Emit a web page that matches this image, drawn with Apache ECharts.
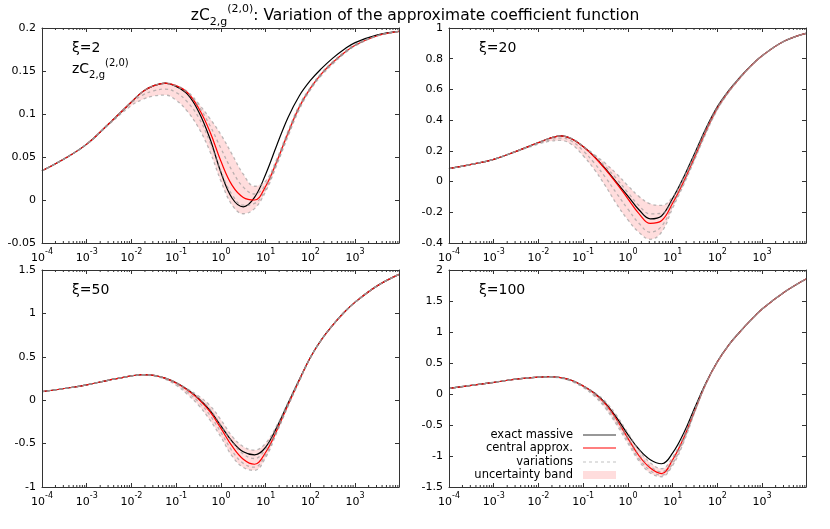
<!DOCTYPE html>
<html>
<head>
<meta charset="utf-8">
<script src="https://cdn.jsdelivr.net/npm/echarts@6/dist/echarts.min.js"></script>
</head>
<body style="margin:0;background:#fff">
<div id="main" style="width:830px;height:529px;"></div>
<script>
// x grid (log axis), same for all panels
var xs = [1e-4, 3.16e-4, 1e-3, 3.16e-3, 0.01, 0.0178, 0.0316, 0.0562, 0.1, 0.178, 0.316, 0.562, 1,
          1.78, 3.16, 5.62, 10, 17.8, 31.6, 56.2, 100, 178, 316, 562, 1000, 3162, 9550];

// xi = 2
var p1Exact   = [0.034, 0.048, 0.065, 0.089, 0.114, 0.126, 0.133, 0.136, 0.132, 0.123, 0.103, 0.072, 0.032, 0.002, -0.008, 0.003, 0.030, 0.064, 0.096, 0.121, 0.139, 0.153, 0.165, 0.175, 0.183, 0.192, 0.196];
var p1Central = [0.034, 0.048, 0.065, 0.089, 0.114, 0.126, 0.133, 0.136, 0.133, 0.125, 0.107, 0.080, 0.045, 0.017, 0.003, 0.000, 0.016, 0.045, 0.078, 0.108, 0.130, 0.147, 0.160, 0.171, 0.180, 0.191, 0.196];
var p1VarA    = [0.034, 0.048, 0.065, 0.089, 0.114, 0.126, 0.133, 0.136, 0.133, 0.126, 0.112, 0.095, 0.076, 0.053, 0.030, 0.016, 0.022, 0.048, 0.080, 0.110, 0.131, 0.148, 0.161, 0.172, 0.181, 0.191, 0.196];
var p1VarB    = [0.034, 0.048, 0.065, 0.089, 0.114, 0.126, 0.133, 0.135, 0.132, 0.124, 0.109, 0.087, 0.060, 0.034, 0.015, 0.007, 0.018, 0.046, 0.079, 0.109, 0.130, 0.147, 0.160, 0.171, 0.180, 0.191, 0.196];
var p1VarC    = [0.034, 0.048, 0.065, 0.089, 0.113, 0.122, 0.127, 0.129, 0.125, 0.114, 0.096, 0.068, 0.033, 0.006, -0.006, -0.004, 0.013, 0.043, 0.076, 0.107, 0.129, 0.146, 0.159, 0.170, 0.180, 0.191, 0.196];
var p1VarD    = [0.034, 0.048, 0.065, 0.088, 0.110, 0.117, 0.121, 0.122, 0.116, 0.103, 0.084, 0.057, 0.022, -0.006, -0.016, -0.010, 0.010, 0.041, 0.074, 0.105, 0.128, 0.145, 0.158, 0.170, 0.179, 0.191, 0.196];

// xi = 20
var p2Exact   = [0.084, 0.112, 0.145, 0.197, 0.254, 0.282, 0.297, 0.277, 0.228, 0.162, 0.082, -0.007, -0.094, -0.185, -0.243, -0.224, -0.109, 0.032, 0.190, 0.350, 0.488, 0.592, 0.678, 0.755, 0.820, 0.915, 0.965];
var p2Central = [0.084, 0.112, 0.145, 0.197, 0.254, 0.282, 0.297, 0.277, 0.228, 0.160, 0.078, -0.013, -0.112, -0.210, -0.272, -0.255, -0.140, 0.003, 0.165, 0.333, 0.478, 0.586, 0.674, 0.753, 0.819, 0.915, 0.965];
var p2VarA    = [0.084, 0.112, 0.145, 0.197, 0.254, 0.282, 0.297, 0.280, 0.231, 0.175, 0.117, 0.050, -0.027, -0.098, -0.145, -0.155, -0.100, 0.030, 0.188, 0.350, 0.488, 0.592, 0.678, 0.755, 0.820, 0.915, 0.965];
var p2VarB    = [0.084, 0.112, 0.145, 0.197, 0.254, 0.282, 0.297, 0.279, 0.229, 0.168, 0.097, 0.017, -0.072, -0.158, -0.210, -0.207, -0.122, 0.016, 0.176, 0.341, 0.482, 0.589, 0.676, 0.754, 0.820, 0.915, 0.965];
var p2VarC    = [0.084, 0.112, 0.145, 0.197, 0.250, 0.272, 0.283, 0.262, 0.200, 0.120, 0.026, -0.078, -0.180, -0.273, -0.330, -0.292, -0.155, -0.008, 0.155, 0.325, 0.472, 0.583, 0.672, 0.752, 0.818, 0.915, 0.965];
var p2VarD    = [0.084, 0.112, 0.145, 0.194, 0.244, 0.262, 0.268, 0.240, 0.168, 0.078, -0.030, -0.148, -0.250, -0.332, -0.376, -0.330, -0.172, -0.018, 0.148, 0.318, 0.468, 0.580, 0.670, 0.751, 0.818, 0.915, 0.965];

// xi = 50
var p3Exact   = [0.098, 0.135, 0.177, 0.232, 0.280, 0.295, 0.287, 0.255, 0.200, 0.122, 0.020, -0.115, -0.295, -0.475, -0.595, -0.630, -0.540, -0.310, -0.036, 0.235, 0.495, 0.700, 0.865, 1.010, 1.130, 1.320, 1.450];
var p3Central = [0.098, 0.135, 0.177, 0.232, 0.280, 0.295, 0.287, 0.255, 0.198, 0.118, 0.012, -0.130, -0.325, -0.530, -0.680, -0.738, -0.600, -0.345, -0.055, 0.228, 0.492, 0.699, 0.865, 1.010, 1.130, 1.320, 1.450];
var p3VarA    = [0.098, 0.135, 0.177, 0.232, 0.280, 0.295, 0.287, 0.256, 0.203, 0.130, 0.048, -0.060, -0.225, -0.415, -0.535, -0.575, -0.495, -0.290, -0.025, 0.240, 0.497, 0.700, 0.865, 1.010, 1.130, 1.320, 1.450];
var p3VarB    = [0.098, 0.135, 0.177, 0.232, 0.280, 0.295, 0.287, 0.255, 0.200, 0.120, 0.022, -0.100, -0.290, -0.480, -0.620, -0.672, -0.560, -0.322, -0.045, 0.231, 0.494, 0.700, 0.865, 1.010, 1.130, 1.320, 1.450];
var p3VarC    = [0.098, 0.135, 0.177, 0.232, 0.280, 0.295, 0.282, 0.250, 0.188, 0.095, -0.020, -0.170, -0.370, -0.585, -0.728, -0.772, -0.625, -0.355, -0.062, 0.222, 0.490, 0.698, 0.864, 1.009, 1.130, 1.320, 1.450];
var p3VarD    = [0.098, 0.135, 0.177, 0.232, 0.277, 0.290, 0.278, 0.242, 0.172, 0.068, -0.058, -0.225, -0.425, -0.645, -0.775, -0.808, -0.660, -0.372, -0.070, 0.215, 0.487, 0.697, 0.864, 1.009, 1.130, 1.320, 1.450];

// xi = 100
var p4Exact   = [0.092, 0.140, 0.188, 0.240, 0.272, 0.278, 0.264, 0.218, 0.130, 0.015, -0.150, -0.385, -0.655, -0.895, -1.060, -1.125, -0.950, -0.625, -0.210, 0.190, 0.525, 0.790, 1.000, 1.195, 1.370, 1.645, 1.855];
var p4Central = [0.092, 0.140, 0.188, 0.240, 0.272, 0.278, 0.264, 0.218, 0.128, 0.010, -0.165, -0.415, -0.715, -1.000, -1.195, -1.285, -1.060, -0.700, -0.262, 0.178, 0.518, 0.786, 0.998, 1.195, 1.370, 1.645, 1.855];
var p4VarA    = [0.092, 0.140, 0.188, 0.240, 0.272, 0.278, 0.264, 0.218, 0.132, 0.022, -0.125, -0.350, -0.630, -0.905, -1.110, -1.205, -1.020, -0.665, -0.235, 0.184, 0.522, 0.788, 1.000, 1.195, 1.370, 1.645, 1.855];
var p4VarB    = [0.092, 0.140, 0.188, 0.240, 0.272, 0.278, 0.264, 0.217, 0.127, 0.005, -0.172, -0.425, -0.705, -0.980, -1.170, -1.255, -1.075, -0.712, -0.250, 0.180, 0.519, 0.787, 0.999, 1.195, 1.370, 1.645, 1.855];
var p4VarC    = [0.092, 0.140, 0.188, 0.240, 0.272, 0.277, 0.261, 0.208, 0.118, -0.012, -0.200, -0.460, -0.750, -1.045, -1.235, -1.310, -1.120, -0.745, -0.270, 0.174, 0.516, 0.784, 0.998, 1.194, 1.370, 1.645, 1.855];
var p4VarD    = [0.092, 0.140, 0.188, 0.240, 0.271, 0.274, 0.254, 0.202, 0.104, -0.035, -0.232, -0.500, -0.795, -1.085, -1.275, -1.335, -1.150, -0.770, -0.282, 0.168, 0.513, 0.782, 0.997, 1.194, 1.370, 1.645, 1.855];

var xiLabels = ['ξ=2', 'ξ=20', 'ξ=50', 'ξ=100'];
var yMins = [-0.05, -0.4, -1, -1.5];
var yMaxs = [0.2, 1, 1.5, 2];
var ySteps = [0.05, 0.2, 0.5, 0.5];
var legendNames = ['exact massive', 'central approx.', 'variations', 'uncertainty band'];
var xMin = 1e-4, xMax = 9550;

var panels = [
    {exact: p1Exact, central: p1Central, vars: [p1VarA, p1VarB, p1VarC, p1VarD]},
    {exact: p2Exact, central: p2Central, vars: [p2VarA, p2VarB, p2VarC, p2VarD]},
    {exact: p3Exact, central: p3Central, vars: [p3VarA, p3VarB, p3VarC, p3VarD]},
    {exact: p4Exact, central: p4Central, vars: [p4VarA, p4VarB, p4VarC, p4VarD]}
];

// minor ticks 2..9 x 10^n
var minorTicks = [];
for (var n = -4; n <= 3; n++) {
    for (var k = 2; k <= 9; k++) {
        var v = k * Math.pow(10, n);
        if (v < xMax) minorTicks.push(v);
    }
}

var FONT = 'DejaVu Sans';
var FRAME = '#333';
var VARCOL = 'rgba(150,150,150,0.65)';
var grids = [
    {left: 42, top: 28, width: 357, height: 215},
    {left: 449, top: 28, width: 357, height: 215},
    {left: 42, top: 270, width: 357, height: 217},
    {left: 449, top: 270, width: 357, height: 217}
];

function pairs(arr) {
    return xs.map(function (x, k) { return [x, arr[k]]; });
}

var xAxes = [], yAxes = [], series = [];
panels.forEach(function (p, i) {
    var line = {show: true, onZero: false, lineStyle: {color: FRAME, width: 1}};
    var tick = {show: true, inside: true, length: 4, lineStyle: {color: FRAME, width: 1}};
    xAxes.push({
        type: 'log', logBase: 10, gridIndex: i, min: xMin, max: xMax, position: 'bottom', z: 10,
        axisLine: line, axisTick: tick, splitLine: {show: false},
        axisLabel: {
            margin: 5, showMaxLabel: false, color: '#000',
            formatter: function (val) {
                var e = Math.round(Math.log(val) / Math.LN10);
                return '{b|10}{s|' + e + '}';
            },
            rich: {
                b: {fontSize: 11, fontFamily: FONT, color: '#000', lineHeight: 16, verticalAlign: 'bottom'},
                s: {fontSize: 8, fontFamily: FONT, color: '#000', lineHeight: 9, verticalAlign: 'top'}
            }
        }
    });
    xAxes.push({
        type: 'log', logBase: 10, gridIndex: i, min: xMin, max: xMax, position: 'top', z: 10,
        axisLine: line, axisTick: tick, splitLine: {show: false}, axisLabel: {show: false}
    });
    yAxes.push({
        type: 'value', gridIndex: i, min: yMins[i], max: yMaxs[i], interval: ySteps[i], position: 'left', z: 10,
        axisLine: line, axisTick: tick, splitLine: {show: false},
        axisLabel: {margin: 6, color: '#000', fontSize: 11, fontFamily: FONT}
    });
    yAxes.push({
        type: 'value', gridIndex: i, min: yMins[i], max: yMaxs[i], interval: ySteps[i], position: 'right', z: 10,
        axisLine: line, axisTick: tick, splitLine: {show: false}, axisLabel: {show: false}
    });

    var xi = 2 * i, yi = 2 * i;
    // uncertainty band = envelope of the variations
    var hi = xs.map(function (x, k) { return Math.max.apply(null, p.vars.map(function (a) { return a[k]; })); });
    var lo = xs.map(function (x, k) { return Math.min.apply(null, p.vars.map(function (a) { return a[k]; })); });
    series.push({
        type: 'line', xAxisIndex: xi, yAxisIndex: yi, data: pairs(hi), smooth: 0.4, symbol: 'none', silent: true, z: 1,
        lineStyle: {width: 0, opacity: 0}, areaStyle: {color: '#ffdddd', opacity: 1, origin: 'start'}
    });
    series.push({
        type: 'line', xAxisIndex: xi, yAxisIndex: yi, data: pairs(lo), smooth: 0.4, symbol: 'none', silent: true, z: 2,
        lineStyle: {width: 0, opacity: 0}, areaStyle: {color: '#ffffff', opacity: 1, origin: 'start'}
    });
    series.push({
        type: 'line', xAxisIndex: xi, yAxisIndex: yi, data: pairs(p.exact), smooth: 0.4, symbol: 'none', z: 3,
        lineStyle: {color: '#000', width: 1.2}
    });
    series.push({
        type: 'line', xAxisIndex: xi, yAxisIndex: yi, data: pairs(p.central), smooth: 0.4, symbol: 'none', z: 4,
        lineStyle: {color: '#ff0000', width: 1.2}
    });
    p.vars.forEach(function (arr, j) {
        series.push({
            type: 'line', xAxisIndex: xi, yAxisIndex: yi, data: pairs(arr), smooth: 0.4, symbol: 'none', z: 5,
            lineStyle: {color: VARCOL, width: 1.3, type: [3, 3], dashOffset: j % 2}
        });
    });
    series.push({
        type: 'custom', xAxisIndex: xi, yAxisIndex: yi, silent: true, z: 10, clip: false,
        data: minorTicks.map(function (v) { return [v, yMins[i]]; }),
        encode: {x: 0, y: 1},
        renderItem: function (params, api) {
            var b = api.coord([api.value(0), yMins[i]]);
            var t = api.coord([api.value(0), yMaxs[i]]);
            var st = {stroke: FRAME, lineWidth: 1};
            return {type: 'group', children: [
                {type: 'line', shape: {x1: b[0], y1: b[1], x2: b[0], y2: b[1] - 2}, style: st},
                {type: 'line', shape: {x1: t[0], y1: t[1], x2: t[0], y2: t[1] + 2}, style: st}
            ]};
        }
    });
});

function richTitle(size, sub) {
    return {
        n: {fontSize: size, fontFamily: FONT, color: '#000', lineHeight: size + 8, verticalAlign: 'middle'},
        sb: {fontSize: sub, fontFamily: FONT, color: '#000', lineHeight: sub, verticalAlign: 'bottom'},
        sp: {fontSize: sub, fontFamily: FONT, color: '#000', lineHeight: sub, verticalAlign: 'top'}
    };
}

var labelStyle = {fontSize: 14, fontWeight: 'normal', fontFamily: FONT, color: '#000'};
var titles = [{
    text: '{n|zC}{sb|2,g}{sp|(2,0)}{n|: Variation of the approximate coefficient function}',
    left: 'center', top: -1,
    textStyle: {fontSize: 15.5, fontWeight: 'normal', fontFamily: FONT, color: '#000', rich: richTitle(15.5, 11)}
}];
xiLabels.forEach(function (t, i) {
    titles.push({text: t, left: grids[i].left + 30, top: grids[i].top + 13, padding: 0, textStyle: labelStyle});
});
titles.push({
    text: '{n|zC}{sb|2,g}{sp|(2,0)}', left: 72, top: 58, padding: 0,
    textStyle: {fontSize: 14, fontWeight: 'normal', fontFamily: FONT, color: '#000', rich: richTitle(14, 10)}
});

// legend in the xi=100 panel, gnuplot style (text then sample)
var legY = [435, 448, 462, 475];
var graphics = [];
legendNames.forEach(function (name, k) {
    graphics.push({
        type: 'text', x: 573, y: legY[k], z: 20,
        style: {text: name, font: '11.5px "DejaVu Sans"', fill: '#000', align: 'right', textAlign: 'right', verticalAlign: 'middle', textVerticalAlign: 'middle'}
    });
});
graphics.push({type: 'line', z: 20, shape: {x1: 583, y1: legY[0], x2: 616, y2: legY[0]}, style: {stroke: '#333', lineWidth: 1.2}});
graphics.push({type: 'line', z: 20, shape: {x1: 583, y1: legY[1], x2: 616, y2: legY[1]}, style: {stroke: '#ff0000', lineWidth: 1.2}});
graphics.push({type: 'line', z: 20, shape: {x1: 583, y1: legY[2], x2: 616, y2: legY[2]}, style: {stroke: 'rgba(150,150,150,0.45)', lineWidth: 1.3, lineDash: [3, 3]}});
graphics.push({type: 'rect', z: 20, shape: {x: 583, y: legY[3] - 4, width: 33, height: 8}, style: {fill: '#ffdddd'}});

var chart = echarts.init(document.getElementById('main'));
chart.setOption({
    backgroundColor: '#fff',
    animation: false,
    title: titles,
    grid: grids,
    xAxis: xAxes,
    yAxis: yAxes,
    series: series,
    graphic: graphics
});
</script>
</body>
</html>
